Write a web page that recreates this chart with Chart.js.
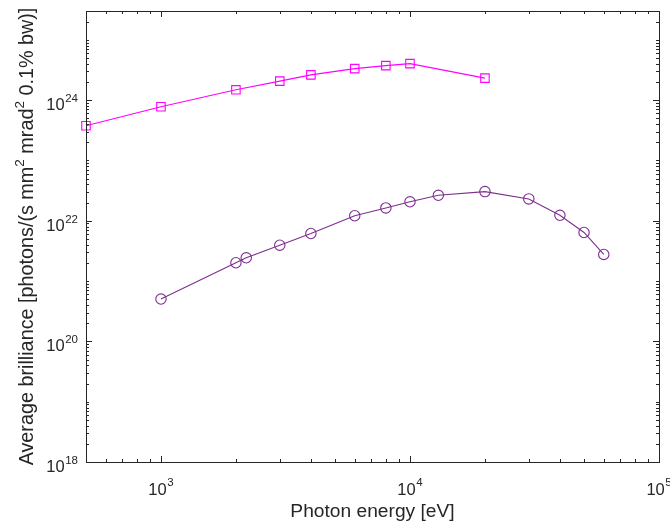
<!DOCTYPE html>
<html>
<head>
<meta charset="utf-8">
<script src="https://cdn.jsdelivr.net/npm/chart.js@4.4.1/dist/chart.umd.min.js"></script>
<style>
  html, body { margin: 0; padding: 0; background: #fff; }
  #wrap { width: 670px; height: 525px; }
</style>
</head>
<body>
<div id="wrap"><canvas id="chart" width="670" height="525"></canvas></div>
<script>
// upper curve (squares)
const energyUpper = [500, 1000, 2000, 3000, 4000, 6000, 8000, 10000, 20000];
const brillianceUpper = [3.76e23, 7.75e23, 1.48e24, 2.06e24, 2.62e24, 3.33e24, 3.73e24, 4.03e24, 2.31e24];

// lower curve (circles)
const energyLower = [1000, 2000, 2200, 3000, 4000, 6000, 8000, 10000, 13000, 20000, 30000, 40000, 50000, 60000];
const brillianceLower = [5.03e20, 2.01e21, 2.43e21, 3.93e21, 6.14e21, 1.21e22, 1.63e22, 2.06e22, 2.64e22, 3.04e22, 2.30e22, 1.23e22, 6.38e21, 2.76e21];

const xRange = [500, 1e5];
const yRange = [1e18, 3e25];
const xLabelTicks = [1e3, 1e4, 1e5];
const yLabelTicks = [1e18, 1e20, 1e22, 1e24];

const xTitle = 'Photon energy [eV]';
// [text, superscript?]
const yTitleParts = [['Average brilliance [photons/(s mm', false], ['2', true], [' mrad', false], ['2', true], [' 0.1% bw)]', false]];

const axisColor = '#262626';
const FONT = '"Liberation Sans", Arial, Helvetica, sans-serif';

function toPoints(xs, ys) {
  return xs.map((x, i) => ({ x: x, y: ys[i] }));
}

// every k*10^n inside [lo, hi]
function logTicks(lo, hi) {
  const out = [];
  for (let n = Math.floor(Math.log10(lo)); n <= Math.ceil(Math.log10(hi)); n++) {
    for (let k = 1; k <= 9; k++) {
      const v = k * Math.pow(10, n);
      if (v >= lo * 0.9999 && v <= hi * 1.0001) out.push(v);
    }
  }
  return out;
}

function drawPow(ctx, x, y, exp, align, expBaseShift) {
  ctx.font = '16.5px ' + FONT;
  const wBase = ctx.measureText('10').width;
  ctx.font = '11.5px ' + FONT;
  const wExp = ctx.measureText(exp).width;
  const total = wBase + wExp + 0.5;
  let start = align === 'right' ? x - total : x - total / 2;
  ctx.textAlign = 'left';
  ctx.textBaseline = 'alphabetic';
  ctx.font = '16.5px ' + FONT;
  ctx.fillText('10', start, y);
  ctx.font = '11.5px ' + FONT;
  ctx.fillText(exp, start + wBase + 0.5, y - expBaseShift);
}

const matlabAxes = {
  id: 'matlabAxes',
  afterDatasetsDraw(chart) {
    const { ctx, chartArea: a, scales } = chart;
    const xs = scales.x, ys = scales.y;
    ctx.save();
    ctx.strokeStyle = axisColor;
    ctx.fillStyle = axisColor;
    ctx.lineWidth = 1;

    // box
    ctx.strokeRect(Math.round(a.left) + 0.5, Math.round(a.top) + 0.5,
      Math.round(a.right - a.left), Math.round(a.bottom - a.top));

    // x ticks (bottom + top), inward
    ctx.beginPath();
    logTicks(xRange[0], xRange[1]).forEach(v => {
      const major = xLabelTicks.includes(v);
      const len = major ? 6 : 3;
      const px = Math.round(xs.getPixelForValue(v)) + 0.5;
      ctx.moveTo(px, a.bottom); ctx.lineTo(px, a.bottom - len);
      ctx.moveTo(px, a.top); ctx.lineTo(px, a.top + len);
    });
    // y ticks (left + right), inward
    logTicks(yRange[0], yRange[1]).forEach(v => {
      const major = yLabelTicks.some(t => Math.abs(t - v) / t < 1e-6);
      const len = major ? 6 : 3;
      const py = Math.round(ys.getPixelForValue(v)) + 0.5;
      ctx.moveTo(a.left, py); ctx.lineTo(a.left + len, py);
      ctx.moveTo(a.right, py); ctx.lineTo(a.right - len, py);
    });
    ctx.stroke();

    // tick labels
    xLabelTicks.forEach(v => {
      const px = xs.getPixelForValue(v);
      drawPow(ctx, px, a.bottom + 33, String(Math.round(Math.log10(v))), 'center', 9);
    });
    yLabelTicks.forEach(v => {
      const py = ys.getPixelForValue(v);
      drawPow(ctx, a.left - 8, py + 10, String(Math.round(Math.log10(v))), 'right', 8);
    });

    // x title
    ctx.font = '19.2px ' + FONT;
    ctx.textAlign = 'center';
    ctx.textBaseline = 'alphabetic';
    ctx.fillText(xTitle, (a.left + a.right) / 2, a.bottom + 55);

    // y title, rotated, with superscripts
    const widths = yTitleParts.map(([t, sup]) => {
      ctx.font = (sup ? '13.5px ' : '19.8px ') + FONT;
      return ctx.measureText(t).width;
    });
    const total = widths.reduce((s, w) => s + w, 0);
    ctx.translate(33, (a.top + a.bottom) / 2);
    ctx.rotate(-Math.PI / 2);
    ctx.textAlign = 'left';
    let cx = -total / 2;
    yTitleParts.forEach(([t, sup], i) => {
      ctx.font = (sup ? '13.5px ' : '19.8px ') + FONT;
      ctx.fillText(t, cx, sup ? -9 : 0);
      cx += widths[i];
    });
    ctx.restore();
  }
};

new Chart(document.getElementById('chart'), {
  type: 'scatter',
  data: {
    datasets: [
      {
        label: 'upper',
        data: toPoints(energyUpper, brillianceUpper),
        showLine: true,
        borderColor: '#ff00ff',
        backgroundColor: 'rgba(0,0,0,0)',
        borderWidth: 1.1,
        pointStyle: 'rect',
        pointRadius: 6,
        pointBorderWidth: 1.1,
        pointBorderColor: '#ff00ff',
        pointBackgroundColor: 'rgba(0,0,0,0)',
        clip: false
      },
      {
        label: 'lower',
        data: toPoints(energyLower, brillianceLower),
        showLine: true,
        borderColor: '#7e2f8e',
        backgroundColor: 'rgba(0,0,0,0)',
        borderWidth: 1.1,
        pointStyle: 'circle',
        pointRadius: 5.2,
        pointBorderWidth: 1.1,
        pointBorderColor: '#7e2f8e',
        pointBackgroundColor: 'rgba(0,0,0,0)',
        clip: false
      }
    ]
  },
  options: {
    responsive: false,
    animation: false,
    events: [],
    layout: { padding: { left: 86, right: 11, top: 11, bottom: 63 } },
    plugins: {
      legend: { display: false },
      tooltip: { enabled: false }
    },
    scales: {
      x: { type: 'logarithmic', display: false, min: xRange[0], max: xRange[1] },
      y: { type: 'logarithmic', display: false, min: yRange[0], max: yRange[1] }
    }
  },
  plugins: [matlabAxes]
});
</script>
</body>
</html>
